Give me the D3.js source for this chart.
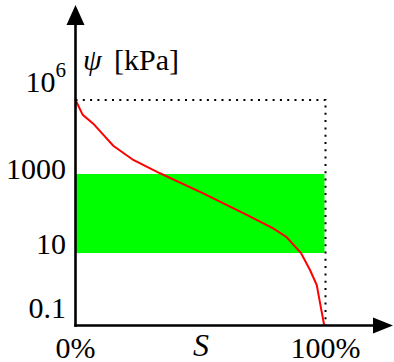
<!DOCTYPE html>
<html>
<head>
<meta charset="utf-8">
<script src="https://cdn.jsdelivr.net/npm/d3@7"></script>
<style>
  body { margin: 0; background: #fff; }
  svg { display: block; }
</style>
</head>
<body>
<div id="chart"></div>
<script>
// saturation S [%] and suction psi [kPa]
var saturation = [0, 2.9, 7.1, 15.1, 23.1, 33.8, 51.1, 68.5, 79.1, 84.5, 90.2, 93.8, 96.5, 98.1, 99.5];
var suction = [1e6, 2.5e5, 1.1e5, 1.4e4, 3700, 1070, 324, 92, 42, 25, 10, 2.7, 0.86, 0.16, 0.01];

var yTicks = [0.1, 10, 1000, 1e6];
var yTickLabels = ["0.1", "10", "1000", "10|6"];
var xTicks = [0, 100];
var xTickLabels = ["0%", "100%"];

var band = [10, 1000];       // green range of psi
var psiMax = 1e6;
var psiMin = 0.01;

var width = 394, height = 362;
var x0 = 75.5, x1 = 325.5, yAxisPos = 325.5;
var serif = "'Liberation Serif', 'Times New Roman', Times, serif";

var svg = d3.select("#chart").append("svg")
    .attr("width", width)
    .attr("height", height)
    .attr("font-family", serif);

var x = d3.scaleLinear().domain([0, 100]).range([x0, x1]);
// drawing is schematic, so the log axis is piecewise
var y = d3.scaleLog()
    .domain([psiMin, 0.1, 10, 1000, psiMax])
    .range([yAxisPos, 313, 253, 174, 100]);

// green band
svg.append("rect")
    .attr("x", x(0))
    .attr("y", y(band[1]))
    .attr("width", x(100) - x(0) - 1)
    .attr("height", y(band[0]) - y(band[1]))
    .attr("fill", "#00ff00");

// dotted bounding lines
svg.append("path")
    .attr("d", d3.line()([[x(0), y(psiMax)], [x(100), y(psiMax)], [x(100), y(psiMin)]]))
    .attr("fill", "none")
    .attr("stroke", "#000")
    .attr("stroke-width", 2)
    .attr("stroke-dasharray", "2,5.3");

// retention curve
var pts = saturation.map(function(s, i) { return [s, suction[i]]; });
svg.append("path")
    .datum(pts)
    .attr("d", d3.line()
        .x(function(d) { return x(d[0]); })
        .y(function(d) { return y(d[1]); }))
    .attr("fill", "none")
    .attr("stroke", "#ff0000")
    .attr("stroke-width", 2);

// axes with arrow heads
svg.append("line")
    .attr("x1", x0).attr("x2", x0)
    .attr("y1", yAxisPos + 1.2).attr("y2", 24)
    .attr("stroke", "#000").attr("stroke-width", 2.6);
svg.append("path")
    .attr("d", "M" + x0 + ",5L" + (x0 - 9) + ",25L" + (x0 + 9) + ",25Z")
    .attr("fill", "#000");

svg.append("line")
    .attr("x1", x0 - 1.2).attr("x2", 374)
    .attr("y1", yAxisPos).attr("y2", yAxisPos)
    .attr("stroke", "#000").attr("stroke-width", 2.6);
svg.append("path")
    .attr("d", "M393," + yAxisPos + "L373," + (yAxisPos - 8) + "L373," + (yAxisPos + 8) + "Z")
    .attr("fill", "#000");

// y tick labels
var yNudge = {"0.1": 5, "10": 1, "1000": 5, "1000000": -8};
var yLab = svg.selectAll(".ylab")
    .data(yTicks)
    .join("text")
    .attr("class", "ylab")
    .attr("x", 66)
    .attr("y", function(d) { return y(d) + yNudge[String(d)]; })
    .attr("text-anchor", "end")
    .attr("font-size", 30);

yLab.each(function(d, i) {
    var parts = yTickLabels[i].split("|");
    var t = d3.select(this);
    t.append("tspan").text(parts[0]);
    if (parts.length > 1) {
        t.append("tspan")
            .attr("dy", -15)
            .attr("font-size", 21)
            .text(parts[1]);
    }
});

// x tick labels
svg.selectAll(".xlab")
    .data(xTicks)
    .join("text")
    .attr("class", "xlab")
    .attr("x", function(d) { return x(d); })
    .attr("y", 358)
    .attr("text-anchor", "middle")
    .attr("font-size", 30)
    .text(function(d, i) { return xTickLabels[i]; });

// axis titles
svg.append("text")
    .attr("x", 201)
    .attr("y", 356)
    .attr("text-anchor", "middle")
    .attr("font-size", 32)
    .attr("font-style", "italic")
    .text("S");

var yTitle = svg.append("text")
    .attr("y", 70)
    .attr("font-size", 30);
yTitle.append("tspan")
    .attr("x", 83)
    .attr("font-style", "italic")
    .text("ψ");
yTitle.append("tspan")
    .attr("x", 114)
    .text("[kPa]");
</script>
</body>
</html>
